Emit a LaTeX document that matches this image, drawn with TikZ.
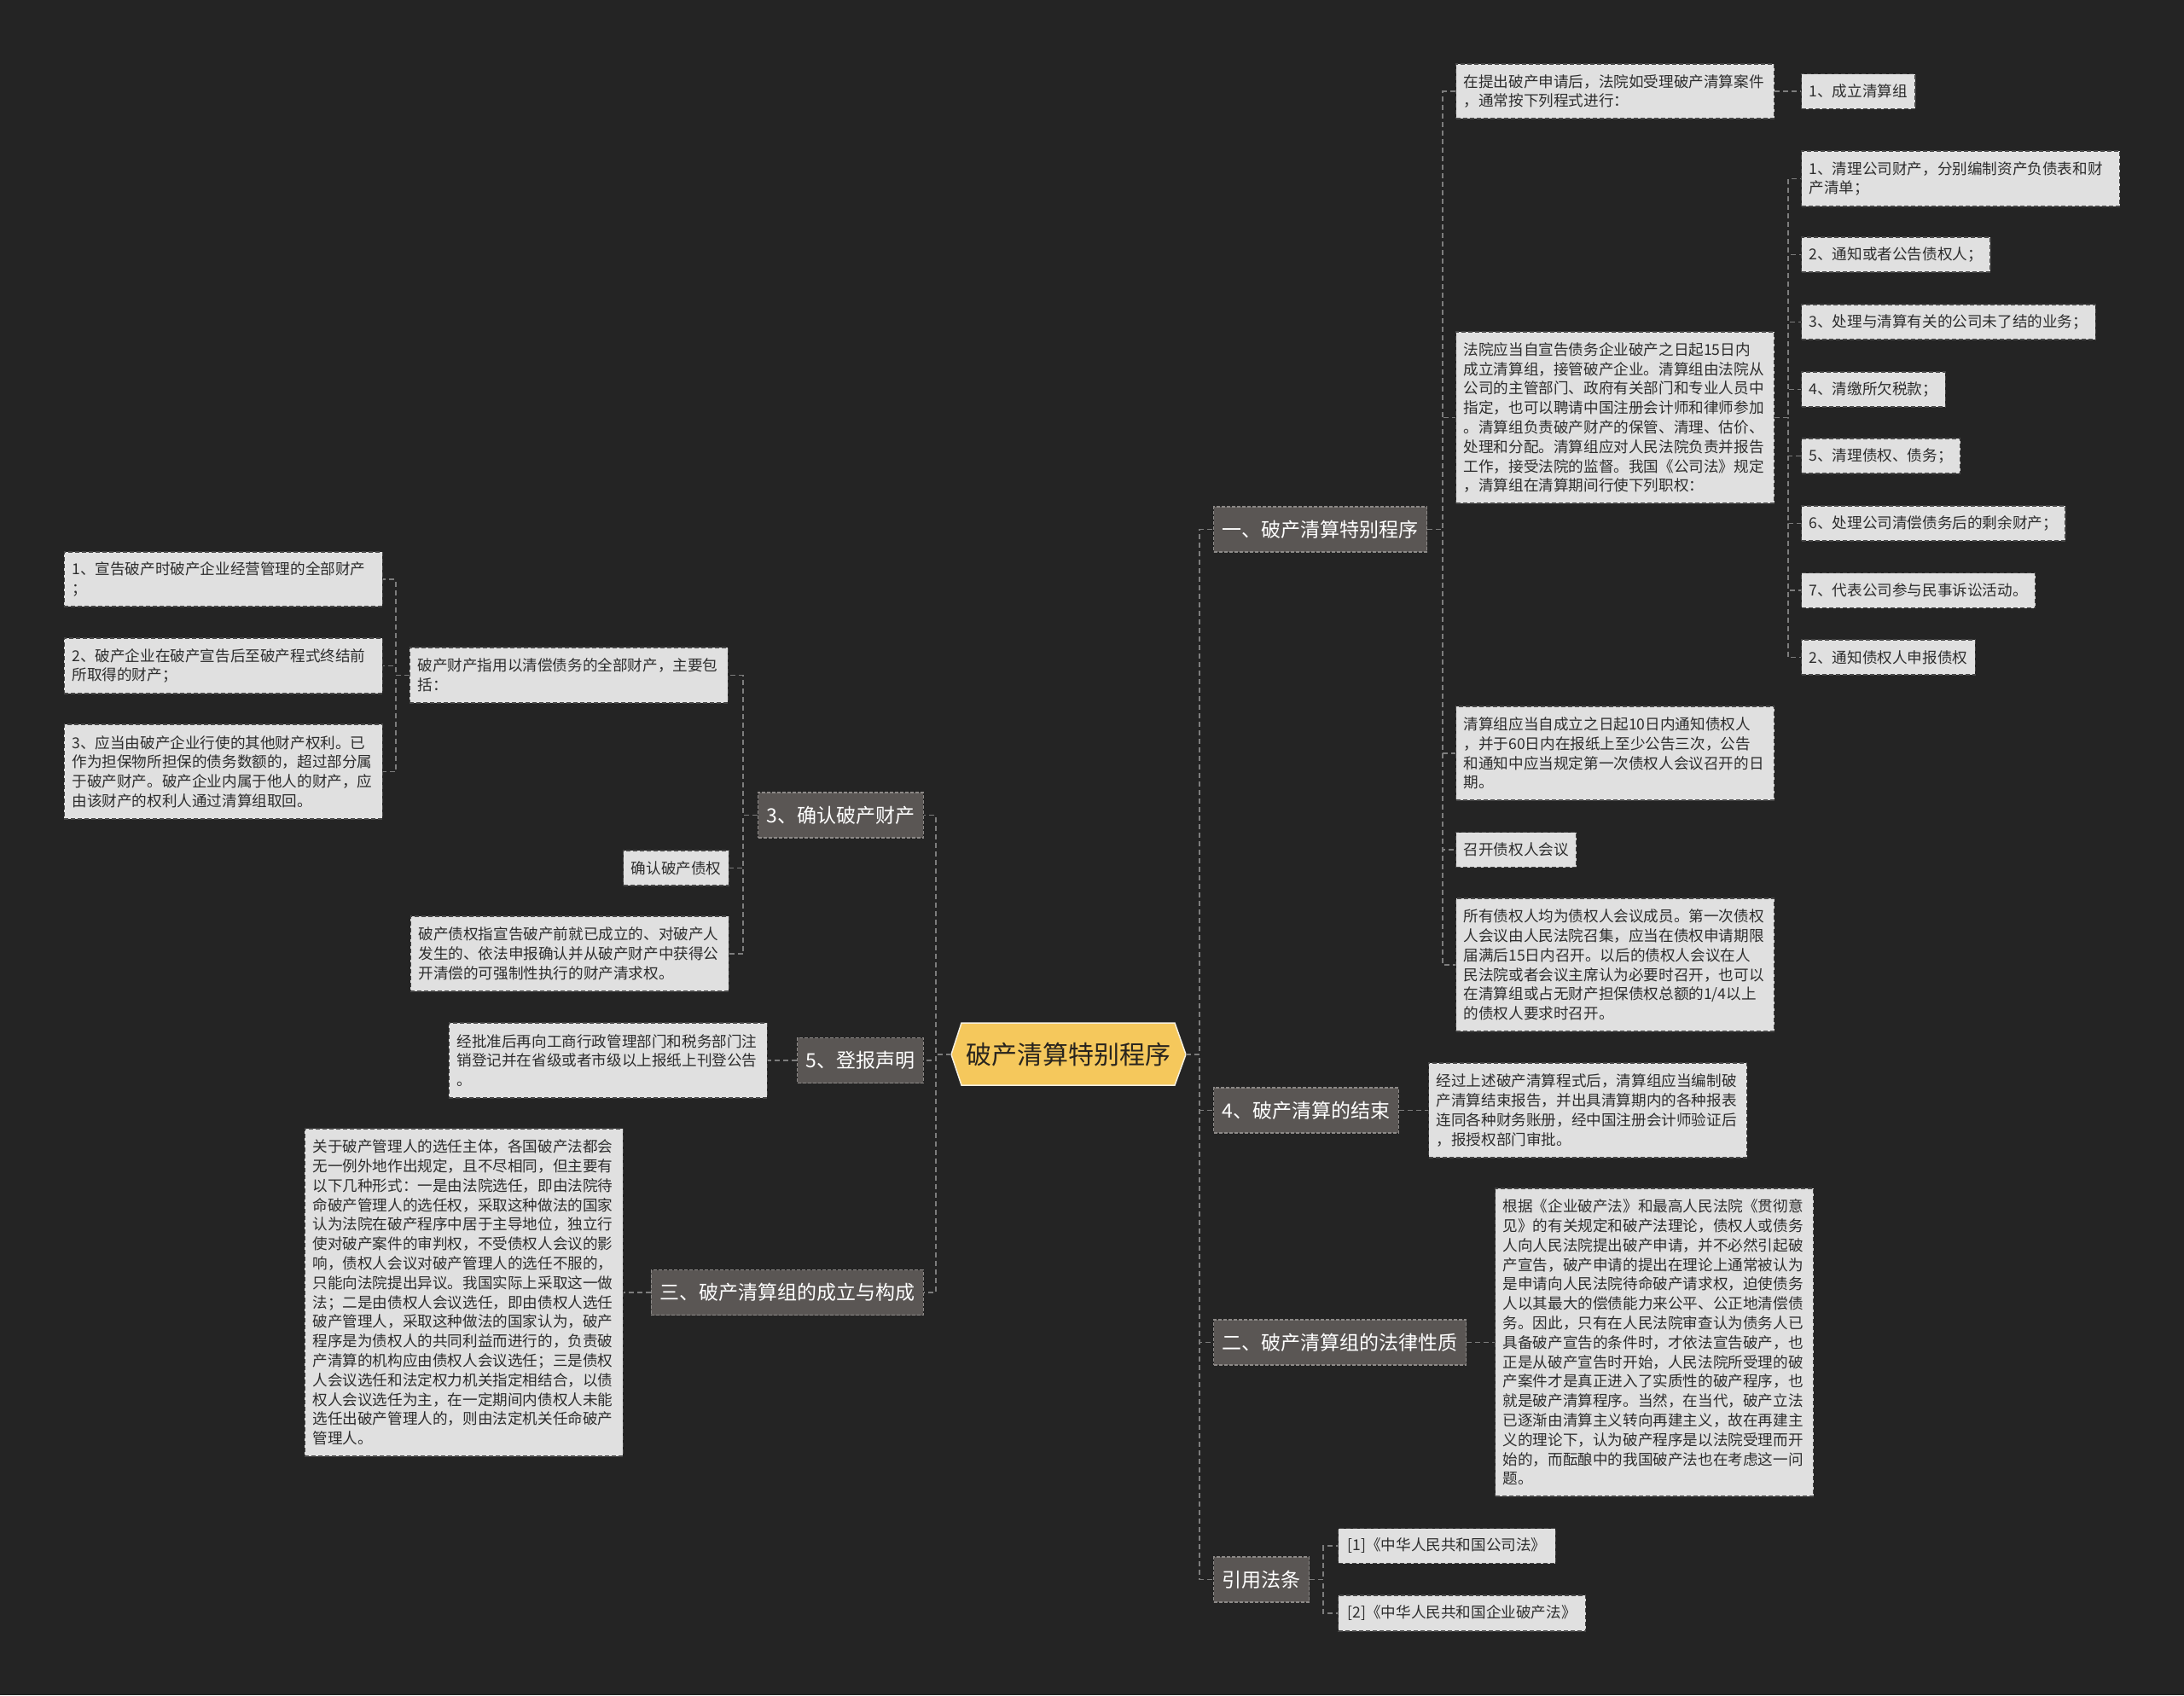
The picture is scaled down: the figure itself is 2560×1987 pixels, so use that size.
\documentclass[tikz,border=0pt]{standalone}
\usepackage{fontspec}
\setmainfont{Noto Sans CJK SC}
\definecolor{bg}{RGB}{36,36,36}
\definecolor{linegray}{RGB}{125,125,125}
\definecolor{branchfill}{RGB}{90,86,84}
\definecolor{branchborder}{RGB}{140,137,135}
\definecolor{leaffill}{RGB}{224,224,224}
\definecolor{leafborder}{RGB}{70,70,70}
\definecolor{leaftext}{RGB}{45,45,45}
\definecolor{rootfill}{RGB}{245,200,92}
\definecolor{rootborder}{RGB}{245,240,225}
\tikzset{
 conn/.style={draw=linegray, line width=1.6pt, dash pattern=on 6pt off 4pt},
 branchbox/.style={fill=branchfill, draw=branchborder, dash pattern=on 4pt off 2pt, line width=1.2pt, text=white, font=\fontsize{23}{28}\selectfont, inner xsep=10pt, inner ysep=0pt, minimum height=53pt},
 leafbox/.style={fill=leaffill, draw=leafborder, dash pattern=on 5pt off 3pt, line width=1.2pt, text=leaftext, font=\fontsize{17.6}{22.8}\selectfont, inner xsep=9pt, inner ysep=3pt, minimum height=41pt, align=left},
 wide/.style={text width=355pt},
 rootbox/.style={draw=none, text={rgb,255:red,40;green,36;blue,30}, font=\fontsize{30}{36}\selectfont, minimum width=275pt, minimum height=73pt, inner sep=0pt},
}
\begin{document}
\begin{tikzpicture}[x=1pt,y=-1pt]
\useasboundingbox (0,0) rectangle (2560,1987);
\fill[bg] (0,0) rectangle (2560,1987);

% root
\fill[rootfill, draw=rootborder, line width=1.5pt] (1115,1236) -- (1127,1199) -- (1377,1199) -- (1390,1236) -- (1377,1272) -- (1127,1272) -- cycle;
\node[rootbox] (root) at (1252.5,1236) {破产清算特别程序};

% right branches
\node[branchbox, anchor=west] (b1) at (1422,620.5) {一、破产清算特别程序};
\node[branchbox, anchor=west] (b2) at (1422,1301.5) {4、破产清算的结束};
\node[branchbox, anchor=west] (b3) at (1422,1573.5) {二、破产清算组的法律性质};
\node[branchbox, anchor=west] (b4) at (1422,1851.5) {引用法条};
% left branches
\node[branchbox, anchor=east] (b5) at (1083,955.5) {3、确认破产财产};
\node[branchbox, anchor=east] (b6) at (1083,1243) {5、登报声明};
\node[branchbox, anchor=east] (b7) at (1083,1515) {三、破产清算组的成立与构成};

% branch 1 children
\node[leafbox, wide, anchor=west, minimum height=64pt] (r1) at (1706,107) {在提出破产申请后，法院如受理破产清算案件\\，通常按下列程式进行：};
\node[leafbox, anchor=west] (r1a) at (2111,107) {1、成立清算组};
\node[leafbox, wide, anchor=west, minimum height=201pt] (r2) at (1706,489.5) {法院应当自宣告债务企业破产之日起15日内\\成立清算组，接管破产企业。清算组由法院从\\公司的主管部门、政府有关部门和专业人员中\\指定，也可以聘请中国注册会计师和律师参加\\。清算组负责破产财产的保管、清理、估价、\\处理和分配。清算组应对人民法院负责并报告\\工作，接受法院的监督。我国《公司法》规定\\，清算组在清算期间行使下列职权：};
\node[leafbox, wide, anchor=west, minimum height=65pt] (c1) at (2111,209.5) {1、清理公司财产，分别编制资产负债表和财\\产清单；};
\node[leafbox, anchor=west] (c2) at (2111,298.5) {2、通知或者公告债权人；};
\node[leafbox, anchor=west] (c3) at (2111,377.5) {3、处理与清算有关的公司未了结的业务；};
\node[leafbox, anchor=west] (c4) at (2111,456.5) {4、清缴所欠税款；};
\node[leafbox, anchor=west] (c5) at (2111,534.5) {5、清理债权、债务；};
\node[leafbox, anchor=west] (c6) at (2111,613.5) {6、处理公司清偿债务后的剩余财产；};
\node[leafbox, anchor=west] (c7) at (2111,692) {7、代表公司参与民事诉讼活动。};
\node[leafbox, anchor=west] (c8) at (2111,770.5) {2、通知债权人申报债权};
\node[leafbox, wide, anchor=west, minimum height=110pt] (r3) at (1706,883) {清算组应当自成立之日起10日内通知债权人\\，并于60日内在报纸上至少公告三次，公告\\和通知中应当规定第一次债权人会议召开的日\\期。};
\node[leafbox, anchor=west] (r4) at (1706,996) {召开债权人会议};
\node[leafbox, wide, anchor=west, minimum height=156pt] (r5) at (1706,1131) {所有债权人均为债权人会议成员。第一次债权\\人会议由人民法院召集，应当在债权申请期限\\届满后15日内召开。以后的债权人会议在人\\民法院或者会议主席认为必要时召开，也可以\\在清算组或占无财产担保债权总额的1/4以上\\的债权人要求时召开。};

% branch 4 child
\node[leafbox, wide, anchor=west, minimum height=111pt] (r6) at (1674,1301.5) {经过上述破产清算程式后，清算组应当编制破\\产清算结束报告，并出具清算期内的各种报表\\连同各种财务账册，经中国注册会计师验证后\\，报授权部门审批。};

% branch 二 child
\node[leafbox, wide, anchor=west, minimum height=361pt] (r7) at (1752,1573.5) {根据《企业破产法》和最高人民法院《贯彻意\\见》的有关规定和破产法理论，债权人或债务\\人向人民法院提出破产申请，并不必然引起破\\产宣告，破产申请的提出在理论上通常被认为\\是申请向人民法院待命破产请求权，迫使债务\\人以其最大的偿债能力来公平、公正地清偿债\\务。因此，只有在人民法院审查认为债务人已\\具备破产宣告的条件时，才依法宣告破产，也\\正是从破产宣告时开始，人民法院所受理的破\\产案件才是真正进入了实质性的破产程序，也\\就是破产清算程序。当然，在当代，破产立法\\已逐渐由清算主义转向再建主义，故在再建主\\义的理论下，认为破产程序是以法院受理而开\\始的，而酝酿中的我国破产法也在考虑这一问\\题。};

% citations
\node[leafbox, anchor=west, inner xsep=11pt] (r8) at (1568,1812) {[1]《中华人民共和国公司法》};
\node[leafbox, anchor=west, inner xsep=11pt, minimum height=42pt] (r9) at (1568,1891) {[2]《中华人民共和国企业破产法》};

% left: 3
\node[leafbox, wide, anchor=east, minimum height=65pt] (l1) at (854,791.5) {破产财产指用以清偿债务的全部财产，主要包\\括：};
\node[leafbox, wide, anchor=east, minimum height=64pt] (l1a) at (449,679) {1、宣告破产时破产企业经营管理的全部财产\\；};
\node[leafbox, wide, anchor=east, minimum height=65pt] (l1b) at (449,780.5) {2、破产企业在破产宣告后至破产程式终结前\\所取得的财产；};
\node[leafbox, wide, anchor=east, minimum height=111pt] (l1c) at (449,904.5) {3、应当由破产企业行使的其他财产权利。已\\作为担保物所担保的债务数额的，超过部分属\\于破产财产。破产企业内属于他人的财产，应\\由该财产的权利人通过清算组取回。};
\node[leafbox, anchor=east] (l2) at (855,1017.5) {确认破产债权};
\node[leafbox, wide, anchor=east, minimum height=88pt] (l3) at (855,1118) {破产债权指宣告破产前就已成立的、对破产人\\发生的、依法申报确认并从破产财产中获得公\\开清偿的可强制性执行的财产清求权。};
% left: 5
\node[leafbox, wide, anchor=east, minimum height=88pt] (l4) at (900,1243) {经批准后再向工商行政管理部门和税务部门注\\销登记并在省级或者市级以上报纸上刊登公告\\。};
% left: 三
\node[leafbox, wide, anchor=east, minimum height=384pt] (l5) at (731,1515) {关于破产管理人的选任主体，各国破产法都会\\无一例外地作出规定，且不尽相同，但主要有\\以下几种形式：一是由法院选任，即由法院待\\命破产管理人的选任权，采取这种做法的国家\\认为法院在破产程序中居于主导地位，独立行\\使对破产案件的审判权，不受债权人会议的影\\响，债权人会议对破产管理人的选任不服的，\\只能向法院提出异议。我国实际上采取这一做\\法；二是由债权人会议选任，即由债权人选任\\破产管理人，采取这种做法的国家认为，破产\\程序是为债权人的共同利益而进行的，负责破\\产清算的机构应由债权人会议选任；三是债权\\人会议选任和法定权力机关指定相结合，以债\\权人会议选任为主，在一定期间内债权人未能\\选任出破产管理人的，则由法定机关任命破产\\管理人。};

% connectors: root to branches
\foreach \b in {b1,b2,b3,b4} \draw[conn] (root.east) -- ++(16,0) |- (\b.west);
\foreach \b in {b5,b6,b7} \draw[conn] (root.west) -- ++(-18,0) |- (\b.east);
% branch 1
\foreach \c in {r1,r2,r3,r4,r5} \draw[conn] (b1.east) -- ++(18,0) |- (\c.west);
\draw[conn] (r1.east) -- (r1a.west);
\foreach \c in {c1,c2,c3,c4,c5,c6,c7,c8} \draw[conn] (r2.east) -- ++(16,0) |- (\c.west);
\draw[conn] (b2.east) -- (r6.west);
\draw[conn] (b3.east) -- (r7.west);
\foreach \c in {r8,r9} \draw[conn] (b4.east) -- ++(16,0) |- (\c.west);
% left
\foreach \c in {l1,l2,l3} \draw[conn] (b5.west) -- ++(-17,0) |- (\c.east);
\foreach \c in {l1a,l1b,l1c} \draw[conn] (l1.west) -- ++(-16,0) |- (\c.east);
\draw[conn] (b6.west) -- (l4.east);
\draw[conn] (b7.west) -- (l5.east);
\end{tikzpicture}
\end{document}
